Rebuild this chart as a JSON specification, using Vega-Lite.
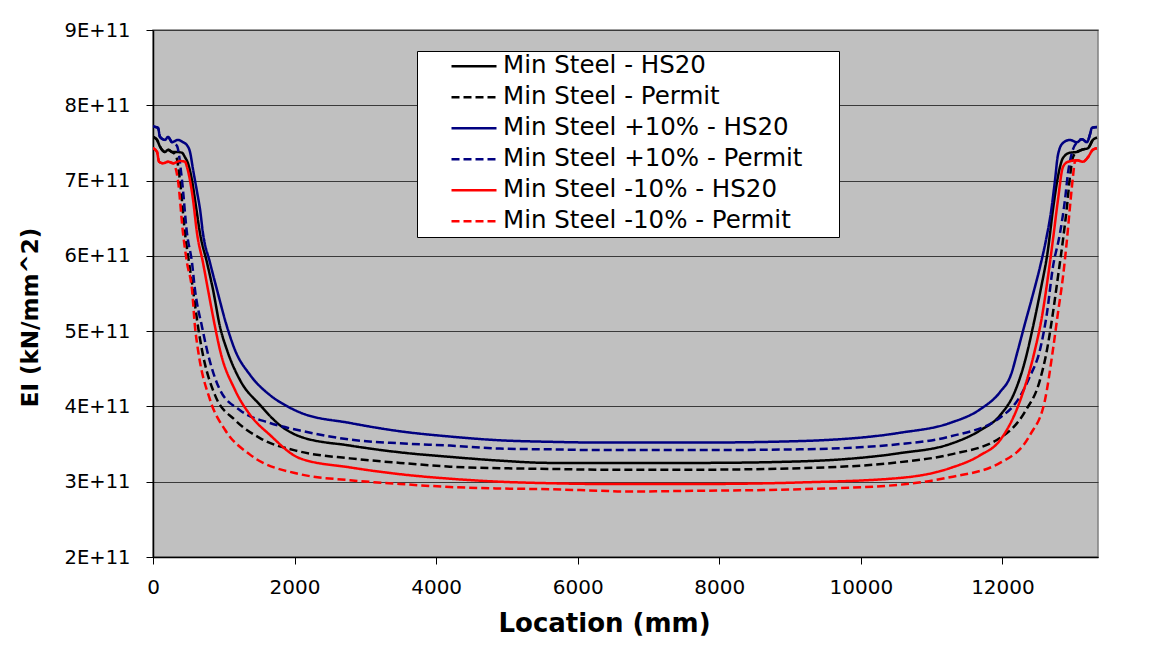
{
  "$schema": "https://vega.github.io/schema/vega-lite/v6.json",
  "width": 945,
  "height": 527,
  "autosize": {"type": "none"},
  "padding": {"left": 153, "top": 30, "right": 55, "bottom": 94},
  "background": "#FFFFFF",
  "config": {
    "font": "DejaVu Sans",
    "view": {"fill": "#C0C0C0", "stroke": "#808080", "strokeWidth": 1.5}
  },
  "datasets": {
    "ei": [
      {"series":"Min Steel - HS20","loc":0,"ei":7.58e11},{"series":"Min Steel - HS20","loc":57,"ei":7.54e11},{"series":"Min Steel - HS20","loc":99,"ei":7.45e11},{"series":"Min Steel - HS20","loc":170,"ei":7.38e11},{"series":"Min Steel - HS20","loc":212,"ei":7.41e11},{"series":"Min Steel - HS20","loc":268,"ei":7.38e11},{"series":"Min Steel - HS20","loc":339,"ei":7.38e11},{"series":"Min Steel - HS20","loc":410,"ei":7.37e11},{"series":"Min Steel - HS20","loc":452,"ei":7.31e11},{"series":"Min Steel - HS20","loc":494,"ei":7.23e11},{"series":"Min Steel - HS20","loc":551,"ei":7.0e11},{"series":"Min Steel - HS20","loc":608,"ei":6.65e11},{"series":"Min Steel - HS20","loc":664,"ei":6.30e11},{"series":"Min Steel - HS20","loc":763,"ei":5.91e11},{"series":"Min Steel - HS20","loc":848,"ei":5.55e11},{"series":"Min Steel - HS20","loc":946,"ei":5.06e11},{"series":"Min Steel - HS20","loc":1045,"ei":4.75e11},{"series":"Min Steel - HS20","loc":1229,"ei":4.35e11},{"series":"Min Steel - HS20","loc":1511,"ei":4.02e11},{"series":"Min Steel - HS20","loc":1794,"ei":3.75e11},{"series":"Min Steel - HS20","loc":2077,"ei":3.60e11},{"series":"Min Steel - HS20","loc":2783,"ei":3.48e11},{"series":"Min Steel - HS20","loc":3489,"ei":3.39e11},{"series":"Min Steel - HS20","loc":4195,"ei":3.33e11},{"series":"Min Steel - HS20","loc":4902,"ei":3.28e11},{"series":"Min Steel - HS20","loc":5608,"ei":3.25e11},{"series":"Min Steel - HS20","loc":6314,"ei":3.25e11},{"series":"Min Steel - HS20","loc":7727,"ei":3.25e11},{"series":"Min Steel - HS20","loc":9140,"ei":3.27e11},{"series":"Min Steel - HS20","loc":10552,"ei":3.38e11},{"series":"Min Steel - HS20","loc":11258,"ei":3.50e11},{"series":"Min Steel - HS20","loc":11682,"ei":3.68e11},{"series":"Min Steel - HS20","loc":11965,"ei":3.88e11},{"series":"Min Steel - HS20","loc":12177,"ei":4.20e11},{"series":"Min Steel - HS20","loc":12318,"ei":4.60e11},{"series":"Min Steel - HS20","loc":12430,"ei":5.05e11},{"series":"Min Steel - HS20","loc":12540,"ei":5.55e11},{"series":"Min Steel - HS20","loc":12643,"ei":6.08e11},{"series":"Min Steel - HS20","loc":12713,"ei":6.61e11},{"series":"Min Steel - HS20","loc":12784,"ei":7.05e11},{"series":"Min Steel - HS20","loc":12855,"ei":7.30e11},{"series":"Min Steel - HS20","loc":12954,"ei":7.37e11},{"series":"Min Steel - HS20","loc":13053,"ei":7.38e11},{"series":"Min Steel - HS20","loc":13123,"ei":7.41e11},{"series":"Min Steel - HS20","loc":13208,"ei":7.43e11},{"series":"Min Steel - HS20","loc":13278,"ei":7.54e11},{"series":"Min Steel - HS20","loc":13335,"ei":7.57e11},

      {"series":"Min Steel - Permit","loc":0,"ei":7.58e11},{"series":"Min Steel - Permit","loc":57,"ei":7.54e11},{"series":"Min Steel - Permit","loc":99,"ei":7.45e11},{"series":"Min Steel - Permit","loc":170,"ei":7.38e11},{"series":"Min Steel - Permit","loc":212,"ei":7.41e11},{"series":"Min Steel - Permit","loc":268,"ei":7.38e11},{"series":"Min Steel - Permit","loc":325,"ei":7.33e11},{"series":"Min Steel - Permit","loc":381,"ei":7.0e11},{"series":"Min Steel - Permit","loc":452,"ei":6.30e11},{"series":"Min Steel - Permit","loc":509,"ei":5.91e11},{"series":"Min Steel - Permit","loc":565,"ei":5.55e11},{"series":"Min Steel - Permit","loc":636,"ei":5.06e11},{"series":"Min Steel - Permit","loc":692,"ei":4.75e11},{"series":"Min Steel - Permit","loc":876,"ei":4.15e11},{"series":"Min Steel - Permit","loc":1158,"ei":3.82e11},{"series":"Min Steel - Permit","loc":1511,"ei":3.58e11},{"series":"Min Steel - Permit","loc":2077,"ei":3.40e11},{"series":"Min Steel - Permit","loc":2783,"ei":3.31e11},{"series":"Min Steel - Permit","loc":3489,"ei":3.25e11},{"series":"Min Steel - Permit","loc":4195,"ei":3.20e11},{"series":"Min Steel - Permit","loc":4902,"ei":3.18e11},{"series":"Min Steel - Permit","loc":5608,"ei":3.17e11},{"series":"Min Steel - Permit","loc":6314,"ei":3.16e11},{"series":"Min Steel - Permit","loc":7727,"ei":3.16e11},{"series":"Min Steel - Permit","loc":9140,"ei":3.18e11},{"series":"Min Steel - Permit","loc":10552,"ei":3.26e11},{"series":"Min Steel - Permit","loc":11258,"ei":3.36e11},{"series":"Min Steel - Permit","loc":11965,"ei":3.58e11},{"series":"Min Steel - Permit","loc":12318,"ei":3.93e11},{"series":"Min Steel - Permit","loc":12530,"ei":4.35e11},{"series":"Min Steel - Permit","loc":12629,"ei":4.75e11},{"series":"Min Steel - Permit","loc":12713,"ei":5.24e11},{"series":"Min Steel - Permit","loc":12784,"ei":5.72e11},{"series":"Min Steel - Permit","loc":12855,"ei":6.21e11},{"series":"Min Steel - Permit","loc":12911,"ei":6.65e11},{"series":"Min Steel - Permit","loc":12954,"ei":7.05e11},{"series":"Min Steel - Permit","loc":12996,"ei":7.31e11},{"series":"Min Steel - Permit","loc":13053,"ei":7.38e11},{"series":"Min Steel - Permit","loc":13123,"ei":7.41e11},{"series":"Min Steel - Permit","loc":13208,"ei":7.43e11},{"series":"Min Steel - Permit","loc":13278,"ei":7.54e11},{"series":"Min Steel - Permit","loc":13335,"ei":7.57e11},

      {"series":"Min Steel +10% - HS20","loc":0,"ei":7.72e11},{"series":"Min Steel +10% - HS20","loc":71,"ei":7.70e11},{"series":"Min Steel +10% - HS20","loc":99,"ei":7.58e11},{"series":"Min Steel +10% - HS20","loc":170,"ei":7.54e11},{"series":"Min Steel +10% - HS20","loc":212,"ei":7.58e11},{"series":"Min Steel +10% - HS20","loc":268,"ei":7.51e11},{"series":"Min Steel +10% - HS20","loc":353,"ei":7.54e11},{"series":"Min Steel +10% - HS20","loc":424,"ei":7.51e11},{"series":"Min Steel +10% - HS20","loc":480,"ei":7.47e11},{"series":"Min Steel +10% - HS20","loc":523,"ei":7.38e11},{"series":"Min Steel +10% - HS20","loc":565,"ei":7.15e11},{"series":"Min Steel +10% - HS20","loc":622,"ei":6.85e11},{"series":"Min Steel +10% - HS20","loc":664,"ei":6.62e11},{"series":"Min Steel +10% - HS20","loc":706,"ei":6.30e11},{"series":"Min Steel +10% - HS20","loc":805,"ei":5.91e11},{"series":"Min Steel +10% - HS20","loc":904,"ei":5.55e11},{"series":"Min Steel +10% - HS20","loc":1045,"ei":5.06e11},{"series":"Min Steel +10% - HS20","loc":1158,"ei":4.75e11},{"series":"Min Steel +10% - HS20","loc":1370,"ei":4.42e11},{"series":"Min Steel +10% - HS20","loc":1653,"ei":4.15e11},{"series":"Min Steel +10% - HS20","loc":1900,"ei":4.0e11},{"series":"Min Steel +10% - HS20","loc":2077,"ei":3.92e11},{"series":"Min Steel +10% - HS20","loc":2783,"ei":3.78e11},{"series":"Min Steel +10% - HS20","loc":3489,"ei":3.67e11},{"series":"Min Steel +10% - HS20","loc":4195,"ei":3.60e11},{"series":"Min Steel +10% - HS20","loc":4902,"ei":3.55e11},{"series":"Min Steel +10% - HS20","loc":5608,"ei":3.53e11},{"series":"Min Steel +10% - HS20","loc":6314,"ei":3.52e11},{"series":"Min Steel +10% - HS20","loc":7727,"ei":3.52e11},{"series":"Min Steel +10% - HS20","loc":9140,"ei":3.54e11},{"series":"Min Steel +10% - HS20","loc":10552,"ei":3.65e11},{"series":"Min Steel +10% - HS20","loc":11258,"ei":3.78e11},{"series":"Min Steel +10% - HS20","loc":11682,"ei":3.96e11},{"series":"Min Steel +10% - HS20","loc":11965,"ei":4.19e11},{"series":"Min Steel +10% - HS20","loc":12120,"ei":4.42e11},{"series":"Min Steel +10% - HS20","loc":12219,"ei":4.75e11},{"series":"Min Steel +10% - HS20","loc":12318,"ei":5.10e11},{"series":"Min Steel +10% - HS20","loc":12420,"ei":5.45e11},{"series":"Min Steel +10% - HS20","loc":12530,"ei":5.85e11},{"series":"Min Steel +10% - HS20","loc":12615,"ei":6.21e11},{"series":"Min Steel +10% - HS20","loc":12690,"ei":6.61e11},{"series":"Min Steel +10% - HS20","loc":12742,"ei":7.0e11},{"series":"Min Steel +10% - HS20","loc":12784,"ei":7.34e11},{"series":"Min Steel +10% - HS20","loc":12855,"ei":7.50e11},{"series":"Min Steel +10% - HS20","loc":12954,"ei":7.54e11},{"series":"Min Steel +10% - HS20","loc":13053,"ei":7.51e11},{"series":"Min Steel +10% - HS20","loc":13123,"ei":7.55e11},{"series":"Min Steel +10% - HS20","loc":13194,"ei":7.51e11},{"series":"Min Steel +10% - HS20","loc":13236,"ei":7.61e11},{"series":"Min Steel +10% - HS20","loc":13264,"ei":7.70e11},{"series":"Min Steel +10% - HS20","loc":13335,"ei":7.71e11},

      {"series":"Min Steel +10% - Permit","loc":0,"ei":7.72e11},{"series":"Min Steel +10% - Permit","loc":71,"ei":7.70e11},{"series":"Min Steel +10% - Permit","loc":99,"ei":7.58e11},{"series":"Min Steel +10% - Permit","loc":170,"ei":7.54e11},{"series":"Min Steel +10% - Permit","loc":212,"ei":7.58e11},{"series":"Min Steel +10% - Permit","loc":268,"ei":7.51e11},{"series":"Min Steel +10% - Permit","loc":339,"ei":7.46e11},{"series":"Min Steel +10% - Permit","loc":410,"ei":7.0e11},{"series":"Min Steel +10% - Permit","loc":480,"ei":6.30e11},{"series":"Min Steel +10% - Permit","loc":551,"ei":5.91e11},{"series":"Min Steel +10% - Permit","loc":593,"ei":5.55e11},{"series":"Min Steel +10% - Permit","loc":692,"ei":5.06e11},{"series":"Min Steel +10% - Permit","loc":763,"ei":4.75e11},{"series":"Min Steel +10% - Permit","loc":946,"ei":4.22e11},{"series":"Min Steel +10% - Permit","loc":1229,"ei":3.95e11},{"series":"Min Steel +10% - Permit","loc":1653,"ei":3.78e11},{"series":"Min Steel +10% - Permit","loc":2077,"ei":3.68e11},{"series":"Min Steel +10% - Permit","loc":2783,"ei":3.56e11},{"series":"Min Steel +10% - Permit","loc":3489,"ei":3.51e11},{"series":"Min Steel +10% - Permit","loc":4195,"ei":3.48e11},{"series":"Min Steel +10% - Permit","loc":4902,"ei":3.44e11},{"series":"Min Steel +10% - Permit","loc":5608,"ei":3.43e11},{"series":"Min Steel +10% - Permit","loc":6314,"ei":3.42e11},{"series":"Min Steel +10% - Permit","loc":7727,"ei":3.42e11},{"series":"Min Steel +10% - Permit","loc":9140,"ei":3.43e11},{"series":"Min Steel +10% - Permit","loc":10552,"ei":3.50e11},{"series":"Min Steel +10% - Permit","loc":11258,"ei":3.60e11},{"series":"Min Steel +10% - Permit","loc":11965,"ei":3.85e11},{"series":"Min Steel +10% - Permit","loc":12247,"ei":4.13e11},{"series":"Min Steel +10% - Permit","loc":12389,"ei":4.40e11},{"series":"Min Steel +10% - Permit","loc":12530,"ei":4.75e11},{"series":"Min Steel +10% - Permit","loc":12629,"ei":5.24e11},{"series":"Min Steel +10% - Permit","loc":12713,"ei":5.85e11},{"series":"Min Steel +10% - Permit","loc":12813,"ei":6.30e11},{"series":"Min Steel +10% - Permit","loc":12883,"ei":6.74e11},{"series":"Min Steel +10% - Permit","loc":12926,"ei":7.10e11},{"series":"Min Steel +10% - Permit","loc":12982,"ei":7.37e11},{"series":"Min Steel +10% - Permit","loc":13053,"ei":7.51e11},{"series":"Min Steel +10% - Permit","loc":13123,"ei":7.55e11},{"series":"Min Steel +10% - Permit","loc":13194,"ei":7.51e11},{"series":"Min Steel +10% - Permit","loc":13236,"ei":7.61e11},{"series":"Min Steel +10% - Permit","loc":13264,"ei":7.70e11},{"series":"Min Steel +10% - Permit","loc":13335,"ei":7.71e11},

      {"series":"Min Steel -10% - HS20","loc":0,"ei":7.43e11},{"series":"Min Steel -10% - HS20","loc":57,"ei":7.38e11},{"series":"Min Steel -10% - HS20","loc":85,"ei":7.25e11},{"series":"Min Steel -10% - HS20","loc":141,"ei":7.23e11},{"series":"Min Steel -10% - HS20","loc":212,"ei":7.25e11},{"series":"Min Steel -10% - HS20","loc":283,"ei":7.23e11},{"series":"Min Steel -10% - HS20","loc":381,"ei":7.26e11},{"series":"Min Steel -10% - HS20","loc":452,"ei":7.25e11},{"series":"Min Steel -10% - HS20","loc":480,"ei":7.18e11},{"series":"Min Steel -10% - HS20","loc":523,"ei":7.0e11},{"series":"Min Steel -10% - HS20","loc":565,"ei":6.75e11},{"series":"Min Steel -10% - HS20","loc":622,"ei":6.30e11},{"series":"Min Steel -10% - HS20","loc":706,"ei":5.91e11},{"series":"Min Steel -10% - HS20","loc":777,"ei":5.55e11},{"series":"Min Steel -10% - HS20","loc":876,"ei":5.06e11},{"series":"Min Steel -10% - HS20","loc":946,"ei":4.75e11},{"series":"Min Steel -10% - HS20","loc":1158,"ei":4.22e11},{"series":"Min Steel -10% - HS20","loc":1370,"ei":3.89e11},{"series":"Min Steel -10% - HS20","loc":1653,"ei":3.62e11},{"series":"Min Steel -10% - HS20","loc":2077,"ei":3.31e11},{"series":"Min Steel -10% - HS20","loc":2783,"ei":3.19e11},{"series":"Min Steel -10% - HS20","loc":3489,"ei":3.10e11},{"series":"Min Steel -10% - HS20","loc":4195,"ei":3.04e11},{"series":"Min Steel -10% - HS20","loc":4902,"ei":3.00e11},{"series":"Min Steel -10% - HS20","loc":5608,"ei":2.98e11},{"series":"Min Steel -10% - HS20","loc":6314,"ei":2.97e11},{"series":"Min Steel -10% - HS20","loc":7727,"ei":2.97e11},{"series":"Min Steel -10% - HS20","loc":9140,"ei":2.99e11},{"series":"Min Steel -10% - HS20","loc":10552,"ei":3.05e11},{"series":"Min Steel -10% - HS20","loc":11258,"ei":3.18e11},{"series":"Min Steel -10% - HS20","loc":11682,"ei":3.35e11},{"series":"Min Steel -10% - HS20","loc":11965,"ei":3.55e11},{"series":"Min Steel -10% - HS20","loc":12247,"ei":4.07e11},{"series":"Min Steel -10% - HS20","loc":12459,"ei":4.75e11},{"series":"Min Steel -10% - HS20","loc":12558,"ei":5.19e11},{"series":"Min Steel -10% - HS20","loc":12643,"ei":5.72e11},{"series":"Min Steel -10% - HS20","loc":12713,"ei":6.21e11},{"series":"Min Steel -10% - HS20","loc":12784,"ei":6.74e11},{"series":"Min Steel -10% - HS20","loc":12855,"ei":7.18e11},{"series":"Min Steel -10% - HS20","loc":12926,"ei":7.25e11},{"series":"Min Steel -10% - HS20","loc":13053,"ei":7.27e11},{"series":"Min Steel -10% - HS20","loc":13137,"ei":7.25e11},{"series":"Min Steel -10% - HS20","loc":13208,"ei":7.31e11},{"series":"Min Steel -10% - HS20","loc":13278,"ei":7.41e11},{"series":"Min Steel -10% - HS20","loc":13335,"ei":7.43e11},

      {"series":"Min Steel -10% - Permit","loc":0,"ei":7.43e11},{"series":"Min Steel -10% - Permit","loc":57,"ei":7.38e11},{"series":"Min Steel -10% - Permit","loc":85,"ei":7.25e11},{"series":"Min Steel -10% - Permit","loc":141,"ei":7.23e11},{"series":"Min Steel -10% - Permit","loc":212,"ei":7.25e11},{"series":"Min Steel -10% - Permit","loc":283,"ei":7.23e11},{"series":"Min Steel -10% - Permit","loc":318,"ei":7.17e11},{"series":"Min Steel -10% - Permit","loc":353,"ei":7.0e11},{"series":"Min Steel -10% - Permit","loc":424,"ei":6.30e11},{"series":"Min Steel -10% - Permit","loc":480,"ei":5.91e11},{"series":"Min Steel -10% - Permit","loc":551,"ei":5.55e11},{"series":"Min Steel -10% - Permit","loc":593,"ei":5.06e11},{"series":"Min Steel -10% - Permit","loc":636,"ei":4.75e11},{"series":"Min Steel -10% - Permit","loc":805,"ei":4.09e11},{"series":"Min Steel -10% - Permit","loc":1017,"ei":3.69e11},{"series":"Min Steel -10% - Permit","loc":1370,"ei":3.36e11},{"series":"Min Steel -10% - Permit","loc":2077,"ei":3.10e11},{"series":"Min Steel -10% - Permit","loc":2783,"ei":3.02e11},{"series":"Min Steel -10% - Permit","loc":3489,"ei":2.97e11},{"series":"Min Steel -10% - Permit","loc":4195,"ei":2.93e11},{"series":"Min Steel -10% - Permit","loc":4902,"ei":2.91e11},{"series":"Min Steel -10% - Permit","loc":5608,"ei":2.90e11},{"series":"Min Steel -10% - Permit","loc":6314,"ei":2.88e11},{"series":"Min Steel -10% - Permit","loc":6668,"ei":2.87e11},{"series":"Min Steel -10% - Permit","loc":7727,"ei":2.88e11},{"series":"Min Steel -10% - Permit","loc":9140,"ei":2.90e11},{"series":"Min Steel -10% - Permit","loc":10552,"ei":2.96e11},{"series":"Min Steel -10% - Permit","loc":11258,"ei":3.06e11},{"series":"Min Steel -10% - Permit","loc":11965,"ei":3.25e11},{"series":"Min Steel -10% - Permit","loc":12389,"ei":3.62e11},{"series":"Min Steel -10% - Permit","loc":12600,"ei":4.08e11},{"series":"Min Steel -10% - Permit","loc":12713,"ei":4.75e11},{"series":"Min Steel -10% - Permit","loc":12784,"ei":5.24e11},{"series":"Min Steel -10% - Permit","loc":12855,"ei":5.72e11},{"series":"Min Steel -10% - Permit","loc":12911,"ei":6.21e11},{"series":"Min Steel -10% - Permit","loc":12954,"ei":6.65e11},{"series":"Min Steel -10% - Permit","loc":12996,"ei":7.05e11},{"series":"Min Steel -10% - Permit","loc":13024,"ei":7.25e11},{"series":"Min Steel -10% - Permit","loc":13053,"ei":7.27e11},{"series":"Min Steel -10% - Permit","loc":13137,"ei":7.25e11},{"series":"Min Steel -10% - Permit","loc":13208,"ei":7.31e11},{"series":"Min Steel -10% - Permit","loc":13278,"ei":7.41e11},{"series":"Min Steel -10% - Permit","loc":13335,"ei":7.43e11}
    ]
  },
  "data": {"name": "ei"},
  "mark": {"type": "line", "strokeWidth": 2.5, "interpolate": "monotone", "clip": true},
  "encoding": {
    "x": {
      "field": "loc",
      "type": "quantitative",
      "scale": {"domain": [0, 13350], "nice": false, "zero": false},
      "axis": {
        "title": "Location (mm)",
        "values": [0, 2000, 4000, 6000, 8000, 10000, 12000],
        "format": "d",
        "grid": false,
        "domainColor": "#000000",
        "domainWidth": 1.5,
        "tickColor": "#000000",
        "tickSize": 7,
        "labelFontSize": 20,
        "labelColor": "#000000",
        "labelPadding": 13,
        "labelFlush": false,
        "titleFontSize": 26,
        "titleFontWeight": "bold",
        "titleColor": "#000000",
        "titleX": 451,
        "titleY": 66,
        "titleAlign": "center",
        "titleBaseline": "middle"
      }
    },
    "y": {
      "field": "ei",
      "type": "quantitative",
      "scale": {"domain": [2e11, 9e11], "nice": false, "zero": false},
      "axis": {
        "title": "EI (kN/mm^2)",
        "values": [2e11, 3e11, 4e11, 5e11, 6e11, 7e11, 8e11, 9e11],
        "labelExpr": "replace(format(datum.value, '.0e'), 'e', 'E')",
        "grid": true,
        "gridColor": "#3a3a3a",
        "gridWidth": 1,
        "domainColor": "#000000",
        "domainWidth": 1.5,
        "tickColor": "#000000",
        "tickSize": 7,
        "labelFontSize": 19.5,
        "labelColor": "#000000",
        "labelPadding": 16,
        "labelFlush": false,
        "titleFontSize": 23,
        "titleFontWeight": "bold",
        "titleColor": "#000000",
        "titleAngle": -90,
        "titleX": -123,
        "titleY": 287,
        "titleAlign": "center",
        "titleBaseline": "middle"
      }
    },
    "color": {
      "field": "series",
      "type": "nominal",
      "scale": {
        "domain": ["Min Steel - HS20", "Min Steel - Permit", "Min Steel +10% - HS20", "Min Steel +10% - Permit", "Min Steel -10% - HS20", "Min Steel -10% - Permit"],
        "range": ["#000000", "#000000", "#000080", "#000080", "#FF0000", "#FF0000"]
      },
      "legend": {
        "title": null,
        "orient": "none",
        "legendX": 264,
        "legendY": 21,
        "fillColor": "#FFFFFF",
        "strokeColor": "#000000",
        "padding": 0,
        "symbolType": "stroke",
        "symbolSize": 2025,
        "symbolStrokeWidth": 2.5,
        "symbolOffset": 33,
        "labelOffset": 5,
        "labelFontSize": 24.5,
        "labelColor": "#000000",
        "labelLimit": 0,
        "rowPadding": 0,
        "clipHeight": 30.5,
        "labelExpr": "datum.label + '\u2800\u2800'"
      }
    },
    "strokeDash": {
      "field": "series",
      "type": "nominal",
      "scale": {
        "domain": ["Min Steel - HS20", "Min Steel - Permit", "Min Steel +10% - HS20", "Min Steel +10% - Permit", "Min Steel -10% - HS20", "Min Steel -10% - Permit"],
        "range": [[1, 0], [8, 4], [1, 0], [8, 4], [1, 0], [8, 4]]
      },
      "legend": {
        "title": null,
        "orient": "none",
        "legendX": 264,
        "legendY": 21,
        "fillColor": "#FFFFFF",
        "strokeColor": "#000000",
        "padding": 0,
        "symbolType": "stroke",
        "symbolSize": 2025,
        "symbolStrokeWidth": 2.5,
        "symbolOffset": 33,
        "labelOffset": 5,
        "labelFontSize": 24.5,
        "labelColor": "#000000",
        "labelLimit": 0,
        "rowPadding": 0,
        "clipHeight": 30.5,
        "labelExpr": "datum.label + '\u2800\u2800'"
      }
    }
  }
}
